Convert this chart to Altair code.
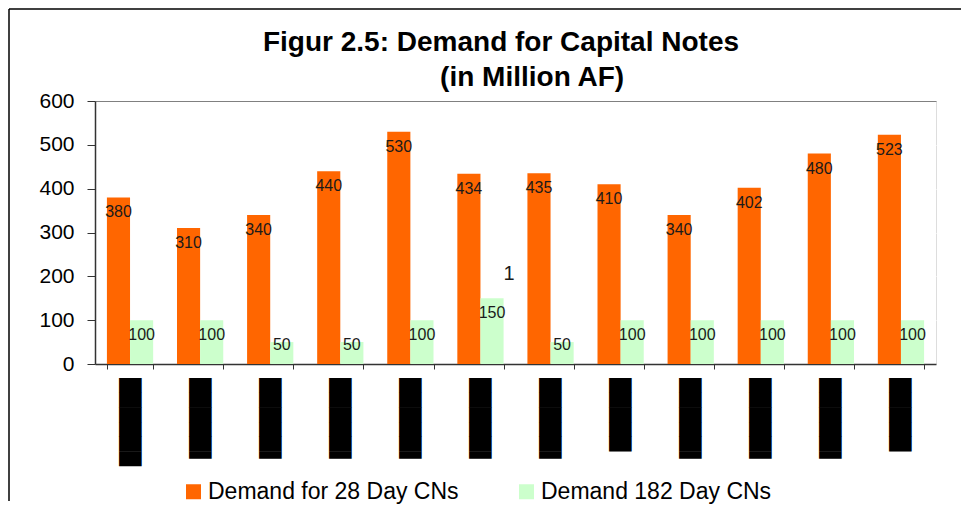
import altair as alt
import pandas as pd

# ---- data ----
periods = ["P01", "P02", "P03", "P04", "P05", "P06", "P07", "P08", "P09", "P10", "P11", "P12"]
# the period labels are unreadable (rendered as solid black blocks) -> block characters
period_labels = [
    "██████", "▐█████", "▐█████", "▐█████", "▐█████", "▐█████",
    "▐█████", "█████", "▐█████", "▐█████", "▐█████", "█████",
]
demand_28 = [380, 310, 340, 440, 530, 434, 435, 410, 340, 402, 480, 523]
demand_182 = [100, 100, 50, 50, 100, 150, 50, 100, 100, 100, 100, 100]
series_names = ["Demand for 28 Day CNs", "Demand 182 Day CNs"]
series_colors = ["#FF6600", "#CCFFCC"]

# stray annotation visible in the reference
note_period = ["P06"]
note_series = ["Demand 182 Day CNs"]
note_value = [206]
note_text = ["1"]

y_ticks = [0, 100, 200, 300, 400, 500, 600]

rows = []
for p, a, b in zip(periods, demand_28, demand_182):
    rows.append({"period": p, "series": series_names[0], "value": a})
    rows.append({"period": p, "series": series_names[1], "value": b})
df = pd.DataFrame(rows)
note_df = pd.DataFrame({"period": note_period, "series": note_series,
                        "value": note_value, "text": note_text})
one = pd.DataFrame({"k": [0]})

FONT = "Liberation Sans"
W, H = 841, 263

label_expr = "[" + ",".join("'" + s + "'" for s in period_labels) + "][indexof([" + \
    ",".join("'" + p + "'" for p in periods) + "], datum.value)]"

x_enc = alt.X(
    "period:N", sort=periods,
    scale=alt.Scale(paddingInner=0.34, paddingOuter=0.17),
    axis=alt.Axis(
        title=None, labelAngle=270, labelAlign="right", labelBaseline="middle",
        labelFont="DejaVu Sans", labelFontSize=19, labelColor="black",
        labelExpr=label_expr, labelPadding=9, tickSize=5, tickColor="#333333",
        domainColor="#333333", domainWidth=1.5, tickBand="extent", grid=False,
    ),
)
xo_enc = alt.XOffset("series:N", sort=series_names,
                     scale=alt.Scale(paddingInner=0, paddingOuter=0))
y_enc = alt.Y(
    "value:Q",
    scale=alt.Scale(domain=[0, 600], nice=False),
    axis=alt.Axis(
        title=None, values=y_ticks, tickSize=8, labelPadding=13,
        labelFontSize=21, labelFont=FONT, labelColor="black",
        domainColor="#333333", domainWidth=1.5, tickColor="#333333",
        grid=True,
        gridColor={"condition": {"test": "datum.value >= 600", "value": "#808080"},
                   "value": "white"},
        gridWidth=1.2,
    ),
)

base = alt.Chart(df)

bars = base.mark_bar().encode(
    x=x_enc, xOffset=xo_enc, y=y_enc,
    color=alt.Color(
        "series:N",
        scale=alt.Scale(domain=series_names, range=series_colors),
        legend=alt.Legend(
            orient="none", legendX=87, legendY=379, direction="horizontal",
            title=None, symbolType="square", symbolSize=225, symbolStrokeWidth=0,
            labelFontSize=23, labelFont=FONT, labelColor="black", labelLimit=500,
            columnPadding=56, labelOffset=3, padding=0,
        ),
    ),
)

labels_hi = base.transform_filter("datum.value >= 100").mark_text(
    dy=15, baseline="middle", fontSize=16, font=FONT, color="#1a1a1a"
).encode(x=alt.X("period:N", sort=periods), xOffset=alt.XOffset("series:N", sort=series_names),
         y="value:Q", text="value:Q")

labels_lo = base.transform_filter("datum.value < 100").mark_text(
    dy=3, baseline="middle", fontSize=16, font=FONT, color="#1a1a1a"
).encode(x=alt.X("period:N", sort=periods), xOffset=alt.XOffset("series:N", sort=series_names),
         y="value:Q", text="value:Q")

note = alt.Chart(note_df).mark_text(
    dx=17, baseline="middle", fontSize=20, font=FONT, color="#1a1a1a"
).encode(x=alt.X("period:N", sort=periods), xOffset=alt.XOffset("series:N", sort=series_names),
         y="value:Q", text="text:N")

frame_top = alt.Chart(one).mark_rule(color="black", strokeWidth=1.5).encode(
    x=alt.value(-86), x2=alt.value(866), y=alt.value(-92))
frame_left = alt.Chart(one).mark_rule(color="black", strokeWidth=1.5).encode(
    x=alt.value(-86), y=alt.value(-92), y2=alt.value(400))

chart = alt.layer(bars, labels_hi, labels_lo, note, frame_top, frame_left).properties(
    width=W, height=H,
    padding={"left": 0, "top": 0, "right": 0, "bottom": 0},
    title=alt.TitleParams(
        text=["Figur 2.5: Demand for Capital Notes",
              "\u200b" + "\u00a0" * 8 + "(in Million AF)"],
        fontSize=28, font=FONT, fontWeight="bold", color="black",
        anchor="middle", frame="group", dx=-14.5, dy=88, lineHeight=35,
    ),
).configure_view(
    fill="#FFCC99", stroke="#808080", strokeWidth=2
).configure(background="white")

chart.save("out.html", embed_options={"renderer": "svg", "actions": False})
